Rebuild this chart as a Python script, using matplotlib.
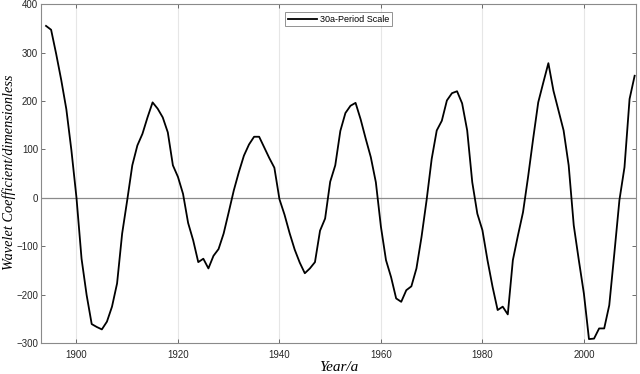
import matplotlib
matplotlib.use('Agg')
import matplotlib.pyplot as plt
import numpy as np

# years and 30a-period wavelet coefficients
years = np.arange(1894, 2011)
coef = [
    355, 347, 297, 243, 183, 98, 0, -126, -201, -261,          # 1894-1903
    -267, -272, -256, -225, -177, -74, -5, 67, 108, 132,       # 1904-1913
    166, 197, 184, 166, 135, 67, 43, 8, -52, -88,              # 1914-1923
    -133, -126, -146, -120, -106, -74, -30, 15, 53, 87,        # 1924-1933
    110, 126, 126, 104, 82, 62, -3, -35, -73, -107,            # 1934-1943
    -134, -156, -146, -133, -68, -43, 33, 67, 138, 175,        # 1944-1953
    190, 196, 162, 122, 84, 32, -60, -129, -164, -208,         # 1954-1963
    -215, -191, -183, -146, -81, -5, 80, 139, 159, 201,        # 1964-1973
    216, 220, 195, 139, 32, -33, -67, -129, -184, -232,        # 1974-1983
    -225, -241, -129, -78, -30, 43, 122, 197, 238, 278,        # 1984-1993
    221, 180, 139, 67, -57, -129, -198, -292, -291, -270,      # 1994-2003
    -270, -222, -115, -5, 63, 204, 252,                        # 2004-2010
]
xticks = [1900, 1920, 1940, 1960, 1980, 2000]
yticks = [-300, -200, -100, 0, 100, 200, 300, 400]

plt.rcParams['font.family'] = ['Liberation Sans', 'DejaVu Sans']

fig = plt.figure(figsize=(6.4, 3.74), dpi=100)
ax = fig.add_axes([0.064, 0.083, 0.93, 0.906])

ax.axhline(0, color='#8a8a8a', lw=0.9, zorder=1)
ax.plot(years, coef, color='black', lw=1.3, label='30a-Period Scale', zorder=3)

ax.set_xlim(1893, 2010.3)
ax.set_ylim(-300, 400)
ax.set_xticks(xticks)
ax.set_yticks(yticks)
ax.grid(axis='x', color='#e6e6e6', lw=0.8)
ax.set_axisbelow(True)

ax.tick_params(direction='in', length=3, width=0.6, color='#555555',
               labelsize=7, labelcolor='#262626', top=True, right=True)
ax.tick_params(axis='x', pad=5)
ax.tick_params(axis='y', pad=2)
for s in ax.spines.values():
    s.set_color('#8a8a8a')
    s.set_linewidth(0.8)

ax.set_xlabel('Year/a', family='Liberation Serif', style='italic', fontsize=11)
ax.set_ylabel('Wavelet Coefficient/dimensionless', family='Liberation Serif',
              style='italic', fontsize=10.3)
ax.xaxis.set_label_coords(0.5, -0.052)
ax.yaxis.set_label_coords(-0.0415, 0.505)

leg = ax.legend(loc='upper center', bbox_to_anchor=(0.5, 0.99), fontsize=6.5,
                frameon=True, fancybox=False, handlelength=3.2,
                borderpad=0.3, handletextpad=0.4)
leg.get_frame().set_edgecolor('#777777')
leg.get_frame().set_linewidth(0.7)
leg.get_lines()[0].set_linewidth(1.3)

fig.savefig('out.png', dpi=100)
